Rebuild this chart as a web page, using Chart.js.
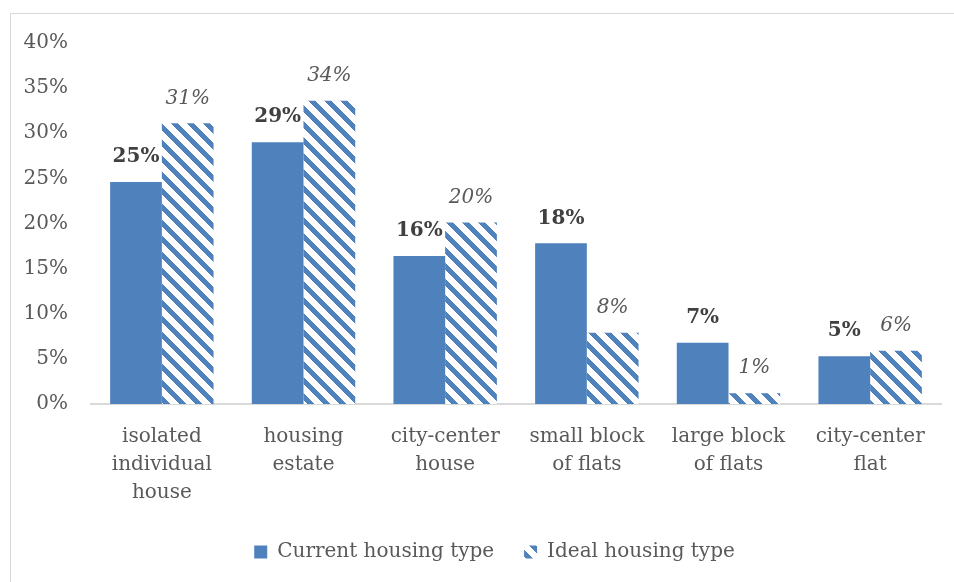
<!DOCTYPE html>
<html>
<head>
<meta charset="utf-8">
<script src="https://cdn.jsdelivr.net/npm/chart.js@4.4.0/dist/chart.umd.min.js"></script>
<style>
  html, body { margin: 0; padding: 0; background: #fff; }
  #wrap { position: relative; width: 954px; height: 582px; }
  #frame { position: absolute; left: 10px; top: 13px; right: 0; bottom: 0;
           border-top: 1px solid #d9d9d9; border-left: 1px solid #d9d9d9; }
  #chart { position: absolute; left: 0; top: 0; }
</style>
</head>
<body>
<div id="wrap">
  <div id="frame"></div>
  <canvas id="chart" width="954" height="582"></canvas>
</div>
<script>
// housing types (x axis), wrapped like the original
const categories = [
    ['isolated', 'individual', 'house'],
    ['housing', 'estate'],
    ['city-center', 'house'],
    ['small block', 'of flats'],
    ['large block', 'of flats'],
    ['city-center', 'flat']
];
const currentHousing = [24.6, 29.0, 16.4, 17.8, 6.8, 5.3];
const idealHousing = [31.1, 33.6, 20.1, 7.9, 1.2, 5.9];
const seriesNames = ['Current housing type', 'Ideal housing type'];

const BLUE = '#4f81bd';
const FONT = "'DejaVu Serif', serif";

// downward diagonal hatch, blue on white, drawn row by row so the tile has no seams
function makeHatch() {
    const s = 16, w = 7;
    const c = document.createElement('canvas');
    c.width = s; c.height = s;
    const g = c.getContext('2d');
    g.fillStyle = '#fff';
    g.fillRect(0, 0, s, s);
    g.fillStyle = BLUE;
    for (let y = 0; y < s; y++) {
        g.fillRect(y, y, w, 1);
        g.fillRect(y - s, y, w, 1);
    }
    return g.createPattern(c, 'repeat');
}

const ctx = document.getElementById('chart').getContext('2d');
const hatch = makeHatch();

// value labels above the bars: bold for current, italic for ideal
const barLabels = {
    id: 'barLabels',
    afterDatasetsDraw(chart) {
        const c = chart.ctx;
        c.save();
        c.textAlign = 'center';
        c.textBaseline = 'middle';
        chart.data.datasets.forEach((ds, i) => {
            const meta = chart.getDatasetMeta(i);
            c.font = (i === 0 ? 'bold ' : 'italic ') + '20px ' + FONT;
            c.fillStyle = i === 0 ? '#404040' : '#595959';
            meta.data.forEach((bar, j) => {
                c.fillText(Math.round(ds.data[j]) + '%', bar.x, bar.y - 25);
            });
        });
        c.restore();
    }
};

// the original legend sits a bit right of centre
const legendShift = {
    id: 'legendShift',
    afterLayout(chart) {
        chart.legend.left += 24;
        chart.legend.right += 24;
    }
};

new Chart(ctx, {
    type: 'bar',
    data: {
        labels: categories,
        datasets: [
            { label: seriesNames[0], data: currentHousing, backgroundColor: BLUE },
            { label: seriesNames[1], data: idealHousing, backgroundColor: hatch }
        ]
    },
    options: {
        responsive: false,
        animation: false,
        datasets: { bar: { categoryPercentage: 0.73, barPercentage: 1 } },
        layout: { padding: { top: 43, right: 13, left: 0, bottom: 10 } },
        plugins: {
            tooltip: { enabled: false },
            legend: {
                position: 'bottom',
                labels: {
                    boxWidth: 13,
                    boxHeight: 13,
                    padding: 30,
                    color: '#595959',
                    font: { family: FONT, size: 20 }
                }
            }
        },
        scales: {
            x: {
                afterFit(scale) { scale.height = 108; },
                grid: { display: false },
                border: { display: true, color: '#d9d9d9', width: 2 },
                ticks: {
                    color: '#595959',
                    padding: 11,
                    maxRotation: 0,
                    font: { family: FONT, size: 20, lineHeight: 1.4 }
                }
            },
            y: {
                min: 0,
                max: 40,
                afterFit(scale) { scale.width = 91; },
                grid: { display: false, drawTicks: false },
                border: { display: false },
                ticks: {
                    stepSize: 5,
                    padding: 23,
                    color: '#595959',
                    font: { family: FONT, size: 20 },
                    callback: v => v + '%'
                }
            }
        }
    },
    plugins: [barLabels, legendShift]
});
</script>
</body>
</html>
